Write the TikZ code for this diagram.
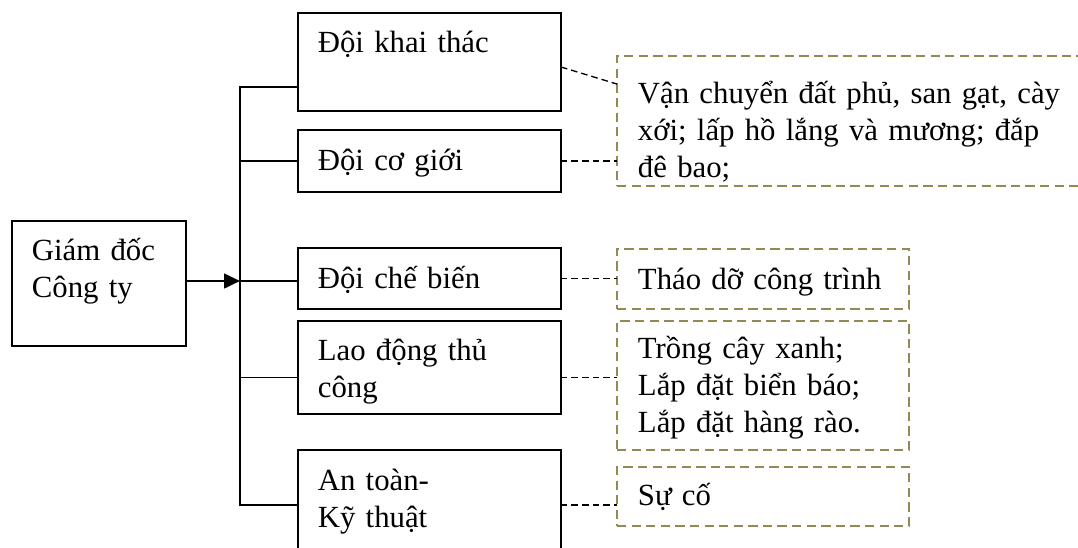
\documentclass[tikz,border=0pt]{standalone}
\usepackage{fontspec}
\setmainfont{Liberation Serif}
\usetikzlibrary{arrows.meta, calc}
\definecolor{tan-dark}{HTML}{938953}

\begin{document}
\begin{tikzpicture}[x=0.377pt, y=-0.377pt,
        every node/.style={font=\fontsize{11.6}{14}\selectfont, align=left,
            anchor=base west, inner ysep=0pt, inner xsep=7.5pt, outer sep=0pt},
        unitbox/.style={draw, line width=0.75pt},
        taskbox/.style={draw=tan-dark, line width=0.75pt,
            dash pattern=on 3.5pt off 2pt, inner xsep=7.9pt},
        link/.style={line width=0.55pt},
        dotlink/.style={line width=0.5pt, dash pattern=on 2.5pt off 1.5pt}]
      \clip (0,0) rectangle (1078,547);
      % director
      \node[unitbox, text width=50.6pt, text height=14.7pt, text depth=32.4pt]
            (GD) at (12,260) {Giám đốc\\Công ty};
      % units
      \node[unitbox, text width=84.1pt, text height=14.7pt, text depth=22.2pt]
            (KT) at (298,52) {Đội khai thác};
      \node[unitbox, text width=84.1pt, text height=15.1pt, text depth=8.3pt]
            (CG) at (298,170) {Đội cơ giới};
      \node[unitbox, text width=84.1pt, text height=15.1pt, text depth=7.9pt]
            (CB) at (298,288) {Đội chế biến};
      \node[unitbox, text width=84.1pt, text height=14.7pt, text depth=20.4pt]
            (LD) at (298,360) {Lao động thủ\\công};
      \node[unitbox, text width=84.1pt, text height=15.1pt, text depth=26.4pt]
            (AT) at (298,490) {An toàn-\\Kỹ thuật};
      % tasks
      \node[taskbox, text width=166.3pt, text height=17.7pt, text depth=31.3pt]
            (VC) at (617,103) {Vận chuyển đất phủ, san gạt, cày\\xới; lấp hồ lắng và mương; đắp\\đê bao;};
      \node[taskbox, text width=94.3pt, text height=15.1pt, text depth=7.5pt]
            (TD) at (617,289) {Tháo dỡ công trình};
      \node[taskbox, text width=94.3pt, text height=13.9pt, text depth=34.7pt]
            (TC) at (617,358) {Trồng cây xanh;\\Lắp đặt biển báo;\\Lắp đặt hàng rào.};
      \node[taskbox, text width=94.3pt, text height=14.3pt, text depth=7.9pt]
            (SC) at (617,505) {Sự cố};
      % tree lines
      \coordinate (bus) at (240,281);
      \coordinate (bustop) at (240,87);
      \draw[line width=1pt, -{Triangle[length=6pt, width=5.5pt]}] (GD.east |- bus) -- (bus);
      \draw[link] (KT.west |- bustop) -- (bustop) -- (bustop |- AT.west) -- (AT.west);
      \draw[link] (bus |- CG.west) -- (CG.west);
      \draw[link] (bus) -- (CB.west |- bus);
      \draw[link] ($(bus |- LD.west)+(0,10)$) -- ($(LD.west)+(0,10)$);
      % task links
      \draw[dotlink] ($(KT.east)+(0,5)$) -- ($(VC.north west)+(0,28)$);
      \draw[dotlink] (CG.east) -- (CG.east -| VC.west);
      \draw[dotlink] (CB.east) -- (CB.east -| TD.west);
      \draw[dotlink] ($(LD.east)+(0,10)$) -- ($(LD.east -| TC.west)+(0,10)$);
      \draw[dotlink] (AT.east) -- (AT.east -| SC.west);
    \end{tikzpicture}
\end{document}
